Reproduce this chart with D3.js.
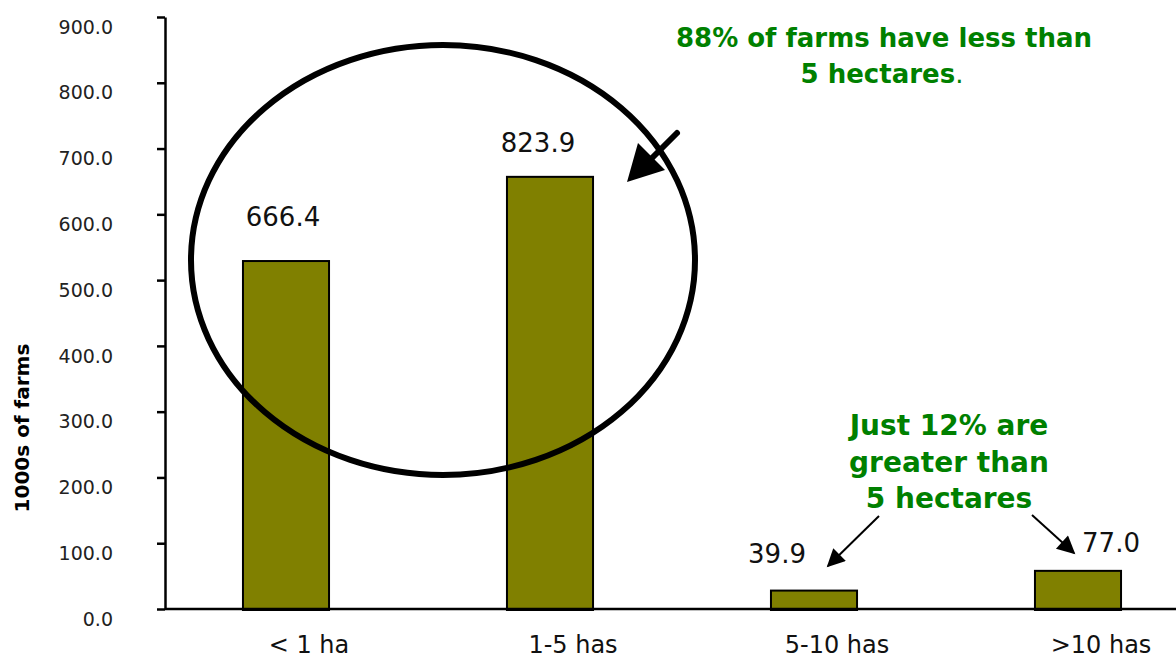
<!DOCTYPE html>
<html lang="en">
<head>
    <meta charset="UTF-8">
    <title>Farms by size</title>
    <style>
      body { margin: 0; background: #fff; }
      svg { display: block; font-family: "DejaVu Sans", sans-serif; }
    </style>
</head>
<body>
    <svg></svg>
    <script src="https://d3js.org/d3.v7.min.js"></script>
    <script>
    // categories and values (bar heights, labels as printed)
    const categories = ['< 1 ha', '1-5 has', '5-10 has', '>10 has'];
    const barValues = [529, 657, 28, 58];
    const valueLabels = ['666.4', '823.9', '39.9', '77.0'];
    const yTicks = [0, 100, 200, 300, 400, 500, 600, 700, 800, 900];

    // hand-placed label nudges, [dx from bar centre, dy from bar top]
    const labelNudge = [[-3, -35], [-12, -25], [-37, -28], [33, -19]];

    const W = 1176, H = 659;
    const axisX = 165, axisBottom = 609, axisTop = 17;

    const svg = d3.select('svg').attr('width', W).attr('height', H);

    const x = d3.scaleBand()
      .domain(categories)
      .range([154, 1210])
      .paddingInner(0.674)
      .paddingOuter(0.337);

    const y = d3.scaleLinear()
      .domain([0, 900])
      .range([axisBottom, axisTop]);

    // bars
    svg.selectAll('.bar')
      .data(categories)
      .enter()
      .append('rect')
      .attr('class', 'bar')
      .attr('x', d => x(d))
      .attr('y', (d, i) => y(barValues[i]))
      .attr('width', x.bandwidth())
      .attr('height', (d, i) => y(0) - y(barValues[i]) + 1)
      .attr('fill', '#808000')
      .attr('stroke', '#000')
      .attr('stroke-width', 2);

    // y axis
    const yAxis = svg.append('g')
      .attr('transform', `translate(${axisX},0)`)
      .call(d3.axisLeft(y).tickValues(yTicks).tickSize(8).tickSizeOuter(0).tickFormat(d3.format('.1f')));
    yAxis.select('.domain').attr('stroke', '#000').attr('stroke-width', 2.5);
    yAxis.selectAll('.tick line').attr('stroke', '#000').attr('stroke-width', 2.5);
    yAxis.selectAll('.tick text')
      .attr('x', -52)
      .attr('dy', '0.85em')
      .attr('font-size', 19)
      .attr('font-family', '"DejaVu Sans", sans-serif')
      .attr('fill', '#222');

    // x axis line
    svg.append('line')
      .attr('x1', axisX).attr('x2', W)
      .attr('y1', axisBottom).attr('y2', axisBottom)
      .attr('stroke', '#000').attr('stroke-width', 2.5);

    // category labels
    svg.selectAll('.cat')
      .data(categories)
      .enter()
      .append('text')
      .attr('class', 'cat')
      .attr('x', d => x(d) + x.bandwidth() / 2 + 23)
      .attr('y', 653)
      .attr('text-anchor', 'middle')
      .attr('font-size', 24)
      .attr('fill', '#111')
      .text(d => d);

    // value labels
    svg.selectAll('.val')
      .data(categories)
      .enter()
      .append('text')
      .attr('class', 'val')
      .attr('x', (d, i) => x(d) + x.bandwidth() / 2 + labelNudge[i][0])
      .attr('y', (d, i) => y(barValues[i]) + labelNudge[i][1])
      .attr('text-anchor', 'middle')
      .attr('font-size', 26)
      .attr('fill', '#111')
      .text((d, i) => valueLabels[i]);

    // y axis title
    svg.append('text')
      .attr('transform', 'translate(29,428) rotate(-90)')
      .attr('text-anchor', 'middle')
      .attr('font-size', 20)
      .attr('font-weight', 'bold')
      .text('1000s of farms');

    // annotations
    const defs = svg.append('defs');
    defs.append('marker')
      .attr('id', 'thin')
      .attr('viewBox', '0 0 10 10')
      .attr('refX', 9).attr('refY', 5)
      .attr('markerWidth', 11).attr('markerHeight', 9)
      .attr('markerUnits', 'strokeWidth')
      .attr('orient', 'auto')
      .append('path').attr('d', 'M0,0 L10,5 L0,10 Z').attr('fill', '#000');

    svg.append('ellipse')
      .attr('cx', 443).attr('cy', 260)
      .attr('rx', 252).attr('ry', 215)
      .attr('fill', 'none')
      .attr('stroke', '#000')
      .attr('stroke-width', 6);

    // big arrow into the ellipse
    svg.append('line')
      .attr('x1', 677).attr('y1', 133)
      .attr('x2', 648).attr('y2', 162)
      .attr('stroke', '#000').attr('stroke-width', 6)
      .attr('stroke-linecap', 'round');
    svg.append('path')
      .attr('d', 'M627,182 L638,143 L665,170 Z')
      .attr('fill', '#000');

    // thin arrows
    svg.append('line')
      .attr('x1', 879).attr('y1', 516).attr('x2', 828).attr('y2', 566)
      .attr('stroke', '#000').attr('stroke-width', 2)
      .attr('marker-end', 'url(#thin)');
    svg.append('line')
      .attr('x1', 1032).attr('y1', 515).attr('x2', 1074).attr('y2', 553)
      .attr('stroke', '#000').attr('stroke-width', 2)
      .attr('marker-end', 'url(#thin)');

    const green = '#008000';
    const note1 = svg.append('text')
      .attr('x', 884).attr('text-anchor', 'middle')
      .attr('font-size', 26).attr('font-weight', 'bold').attr('fill', green);
    note1.append('tspan').attr('x', 884).attr('y', 47).text('88% of farms have less than');
    note1.append('tspan').attr('x', 882).attr('y', 83).text('5 hectares');
    note1.append('tspan').attr('font-weight', 'normal').text('.');

    const note2 = svg.append('text')
      .attr('text-anchor', 'middle')
      .attr('font-size', 28).attr('font-weight', 'bold').attr('fill', green);
    ['Just 12% are', 'greater than', '5 hectares'].forEach((t, i) => {
      note2.append('tspan').attr('x', 949).attr('y', 435 + i * 36.5).text(t);
    });
    </script>
</body>
</html>
